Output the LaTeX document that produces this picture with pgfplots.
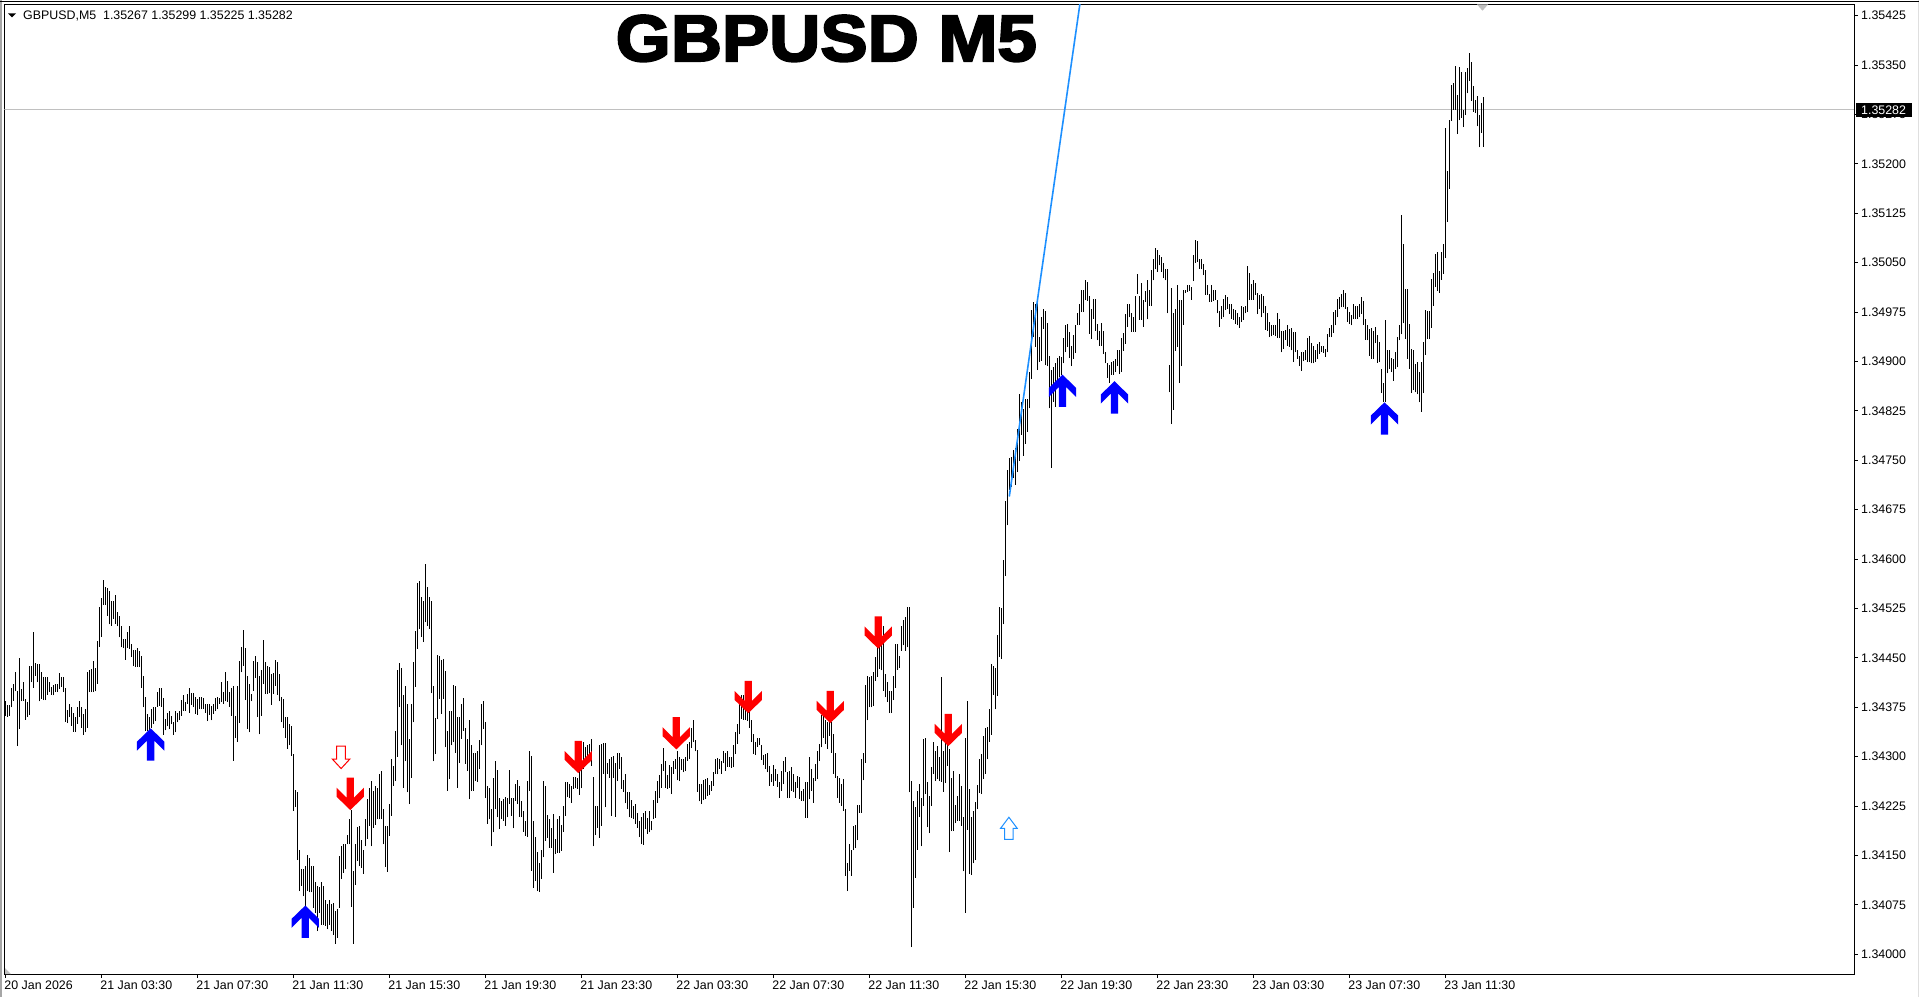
\documentclass[border=0pt]{standalone}
\usepackage{fontspec}
\usepackage{pgfplots}
\usepackage{pgfplotstable}
\pgfplotsset{compat=1.18}
\setmainfont{Liberation Sans}
\newfontfamily\titlefont[FakeBold=3.2,FakeStretch=1.08]{Liberation Sans Bold}
\definecolor{dodger}{HTML}{1E90FF}
\definecolor{cl}{HTML}{C0C0C0}
% High and low of each 5-minute bar, in points above 1.34000 (1 point = 0.00001)
\pgfplotstableread{
hi lo
385 362
379 361
379 362
405 375
410 385
429 399
400 316
450 342
403 384
414 385
388 356
383 360
438 364
438 413
490 405
442 423
440 413
440 384
428 388
421 386
421 386
421 394
414 398
406 394
409 393
411 398
411 398
427 403
421 406
421 398
404 353
371 351
380 360
375 347
366 338
360 338
376 350
384 360
376 344
365 333
372 337
428 344
431 398
433 398
446 398
435 399
476 411
528 467
541 482
569 531
557 530
556 514
551 501
537 499
537 509
546 502
519 498
513 481
499 466
479 465
479 447
489 465
499 464
471 451
462 437
462 436
465 436
461 436
453 405
422 375
390 339
365 339
360 339
373 344
376 350
376 354
398 376
404 377
405 376
389 333
357 340
367 346
370 342
362 349
352 333
369 337
367 352
370 355
386 362
393 370
383 370
395 380
405 367
396 379
396 375
390 365
388 364
390 372
390 372
389 372
380 367
380 354
380 364
377 355
380 365
389 369
390 372
389 380
413 383
398 380
428 384
415 383
398 376
405 362
408 294
362 329
408 323
446 351
466 428
492 438
465 386
423 342
410 337
395 384
446 400
453 420
443 361
423 334
431 362
477 410
443 395
438 395
436 396
426 379
427 395
447 408
444 394
425 384
390 352
388 344
361 329
361 312
349 317
346 301
304 218
249 224
247 143
158 96
129 104
129 88
134 73
151 96
146 94
134 94
134 71
109 63
104 35
102 63
109 45
104 45
82 43
76 38
83 45
76 35
78 30
66 16
68 25
149 71
164 114
168 124
167 129
181 167
205 167
219 72
127 16
167 105
193 142
195 134
173 131
159 122
205 164
235 175
253 195
263 164
248 192
256 197
253 205
273 205
278 205
220 167
195 133
195 125
228 180
296 210
286 256
339 263
432 300
442 375
435 317
393 253
408 293
380 246
327 228
380 268
444 352
491 406
564 464
567 494
543 482
537 474
592 504
558 499
543 494
536 396
408 293
359 304
455 357
453 388
447 365
448 388
430 314
339 248
370 266
370 317
409 322
408 306
360 253
360 291
380 327
389 339
344 289
327 278
355 235
317 248
306 248
306 263
308 262
325 281
380 317
385 342
352 237
256 198
253 205
220 164
268 185
294 220
280 208
238 190
233 205
235 203
239 195
237 208
280 228
238 210
237 191
259 233
264 228
256 209
232 208
218 186
202 180
263 178
308 248
301 127
203 101
178 111
156 96
138 95
158 114
263 147
256 172
212 177
205 162
192 162
213 124
175 152
205 154
210 154
197 157
225 186
261 210
261 239
259 237
256 230
269 251
269 252
268 251
280 242
280 252
322 281
314 294
317 298
320 301
327 286
269 164
225 181
225 192
318 177
319 195
321 274
321 223
291 274
296 268
299 210
301 268
291 209
306 263
305 281
300 251
264 247
274 229
247 220
247 208
234 207
225 205
228 198
215 192
202 178
209 167
215 166
217 190
207 183
218 185
203 188
234 205
248 207
263 230
272 237
289 253
313 279
294 253
272 251
288 253
285 243
294 274
296 281
308 264
300 263
296 280
296 276
299 278
319 294
322 296
344 313
355 322
325 308
310 247
259 232
259 228
264 234
266 235
268 241
257 242
263 248
276 256
296 274
298 273
296 281
294 274
309 290
306 279
309 285
299 285
299 283
317 284
337 304
349 319
385 334
393 357
394 356
390 356
385 354
370 344
356 322
334 304
322 303
328 315
329 317
317 295
303 288
304 281
306 276
286 256
274 261
288 256
281 263
274 254
261 238
278 248
294 258
299 276
276 237
279 237
285 248
274 246
261 238
271 253
269 235
248 233
251 232
261 207
261 207
299 235
281 248
268 230
289 263
309 266
320 294
364 314
362 329
355 320
352 312
360 332
352 306
334 274
306 268
271 237
268 230
258 225
266 218
220 119
139 96
167 127
159 119
195 158
196 161
227 173
227 215
296 215
305 264
409 291
423 355
421 375
423 375
428 377
451 415
466 421
469 433
469 431
499 400
426 390
413 383
400 366
400 366
423 386
471 405
471 432
453 435
498 461
507 469
512 461
527 466
528 246
263 11
232 71
224 116
248 159
258 208
238 164
327 225
329 243
261 193
240 184
285 225
322 274
309 263
316 266
300 263
421 262
308 247
327 260
322 286
311 155
267 187
279 187
226 199
240 203
274 203
255 195
208 126
329 63
385 189
251 122
208 120
218 138
231 143
257 220
297 245
304 243
332 266
343 274
345 296
373 323
441 333
437 394
434 372
484 392
528 451
525 448
598 501
688 574
736 651
753 705
755 710
765 723
769 713
797 732
851 749
838 789
828 757
843 775
843 793
884 829
978 874
991 937
987 922
993 887
937 899
967 901
979 950
976 894
958 893
908 829
887 739
892 839
897 831
906 861
909 876
907 879
935 897
956 914
957 922
945 905
924 893
940 904
956 913
973 956
988 956
1008 975
1008 975
1024 993
1021 992
999 942
980 934
995 965
995 947
957 932
947 924
958 924
947 911
914 897
897 875
895 867
899 880
900 880
904 884
917 893
917 881
935 884
943 916
972 927
987 952
988 967
974 945
968 945
999 945
1033 1003
1000 963
1019 963
993 953
1007 990
1023 964
1009 985
1039 984
1056 1023
1073 1040
1069 1036
1061 1046
1059 1036
1049 1026
1040 1023
1040 973
894 853
1012 805
973 827
980 916
1016 922
993 867
994 893
1008 956
1008 1004
1016 1006
1016 1007
1013 994
1061 1022
1084 1050
1083 1051
1055 1041
1055 1040
1048 1031
1039 1001
1016 1001
1002 990
1016 991
1008 992
1009 993
993 973
976 953
985 965
995 967
1001 978
998 980
987 972
987 965
979 963
978 957
974 955
967 951
985 960
982 963
985 973
1045 975
1035 993
1017 994
1024 994
1019 1001
1004 972
1001 980
1003 967
999 973
985 948
973 947
960 937
955 938
955 940
955 938
973 936
964 935
947 914
947 919
948 933
956 924
950 922
951 917
945 899
945 914
917 904
909 893
914 886
914 900
917 902
936 899
938 899
928 897
924 897
917 899
927 904
930 912
924 914
924 913
919 907
941 914
951 937
955 937
975 943
978 955
995 967
998 980
1003 982
1008 982
1004 980
983 960
975 957
970 955
987 964
984 965
984 965
988 967
998 972
992 956
965 933
955 932
950 909
951 904
947 904
952 928
940 898
930 899
889 852
868 838
963 838
917 882
917 889
905 884
904 871
914 889
937 891
956 932
1122 941
1078 958
1010 934
1010 904
957 889
919 852
917 856
896 853
899 850
884 838
899 824
929 852
978 910
977 934
976 934
1025 951
1034 985
1063 1013
1066 1007
1037 1004
1066 1024
1078 1033
1254 1057
1189 1112
1267 1162
1320 1265
1323 1282
1348 1282
1304 1245
1347 1266
1340 1270
1282 1256
1339 1274
1346 1307
1368 1326
1355 1296
1318 1279
1297 1277
1303 1257
1274 1225
1292 1247
1301 1226
}\bars
% Arrow markers, tip at the plotted coordinate, sizes in picture pixels
\pgfdeclareplotmark{bigup}{%
  \pgfpathmoveto{\pgfqpoint{0pt}{0pt}}
  \pgfpathlineto{\pgfqpoint{13.7pt}{-13.3pt}}
  \pgfpathlineto{\pgfqpoint{13.7pt}{-22.3pt}}
  \pgfpathlineto{\pgfqpoint{3.7pt}{-12.3pt}}
  \pgfpathlineto{\pgfqpoint{3.7pt}{-32.3pt}}
  \pgfpathlineto{\pgfqpoint{-3.7pt}{-32.3pt}}
  \pgfpathlineto{\pgfqpoint{-3.7pt}{-12.3pt}}
  \pgfpathlineto{\pgfqpoint{-13.7pt}{-22.3pt}}
  \pgfpathlineto{\pgfqpoint{-13.7pt}{-13.3pt}}
  \pgfpathclose\pgfusepathqfill}
\pgfdeclareplotmark{bigdown}{%
  \pgfpathmoveto{\pgfqpoint{0pt}{0pt}}
  \pgfpathlineto{\pgfqpoint{13.7pt}{13.3pt}}
  \pgfpathlineto{\pgfqpoint{13.7pt}{22.3pt}}
  \pgfpathlineto{\pgfqpoint{3.7pt}{12.3pt}}
  \pgfpathlineto{\pgfqpoint{3.7pt}{32.3pt}}
  \pgfpathlineto{\pgfqpoint{-3.7pt}{32.3pt}}
  \pgfpathlineto{\pgfqpoint{-3.7pt}{12.3pt}}
  \pgfpathlineto{\pgfqpoint{-13.7pt}{22.3pt}}
  \pgfpathlineto{\pgfqpoint{-13.7pt}{13.3pt}}
  \pgfpathclose\pgfusepathqfill}
\pgfdeclareplotmark{hollowup}{%
  \pgfpathmoveto{\pgfqpoint{0pt}{0pt}}
  \pgfpathlineto{\pgfqpoint{8.3pt}{-11pt}}
  \pgfpathlineto{\pgfqpoint{4.2pt}{-11pt}}
  \pgfpathlineto{\pgfqpoint{4.2pt}{-22pt}}
  \pgfpathlineto{\pgfqpoint{-4.2pt}{-22pt}}
  \pgfpathlineto{\pgfqpoint{-4.2pt}{-11pt}}
  \pgfpathlineto{\pgfqpoint{-8.3pt}{-11pt}}
  \pgfpathclose\pgfusepathqfillstroke}
\pgfdeclareplotmark{hollowdown}{%
  \pgfpathmoveto{\pgfqpoint{0pt}{0pt}}
  \pgfpathlineto{\pgfqpoint{8.8pt}{9.5pt}}
  \pgfpathlineto{\pgfqpoint{4.4pt}{9.5pt}}
  \pgfpathlineto{\pgfqpoint{4.4pt}{22.3pt}}
  \pgfpathlineto{\pgfqpoint{-4.4pt}{22.3pt}}
  \pgfpathlineto{\pgfqpoint{-4.4pt}{9.5pt}}
  \pgfpathlineto{\pgfqpoint{-8.8pt}{9.5pt}}
  \pgfpathclose\pgfusepathqfillstroke}
\newcommand{\lab}{\fontsize{12.4}{14}\selectfont}
\begin{document}
\begin{tikzpicture}[x=1pt,y=1pt]
\path[use as bounding box] (0,0) rectangle (1919,997);
\begin{axis}[
  name=main, anchor=south west, at={(4.5pt,22.7pt)},
  scale only axis, width=1850pt, height=969.8pt,
  xmin=-0.4, xmax=924.6, ymin=-30.4, ymax=1442,
  axis line style={black,line width=1pt},
  tick style={black,line width=1pt},
  major tick length=3.5pt, tick align=outside,
  xtick pos=bottom, ytick pos=right,
  xtick={0,48,96,144,192,240,288,336,384,432,480,528,576,624,672,720},
  xticklabels={20 Jan 2026,21 Jan 03:30,21 Jan 07:30,21 Jan 11:30,21 Jan 15:30,21 Jan 19:30,21 Jan 23:30,22 Jan 03:30,22 Jan 07:30,22 Jan 11:30,22 Jan 15:30,22 Jan 19:30,22 Jan 23:30,23 Jan 03:30,23 Jan 07:30,23 Jan 11:30},
  ytick={0,75,150,225,300,375,450,525,600,675,750,825,900,975,1050,1125,1200,1275,1350,1425},
  yticklabels={1.34000,1.34075,1.34150,1.34225,1.34300,1.34375,1.34450,1.34525,1.34600,1.34675,1.34750,1.34825,1.34900,1.34975,1.35050,1.35125,1.35200,1.35275,1.35350,1.35425},
  x tick label style={font=\lab,anchor=north west,inner xsep=0pt,inner ysep=0pt,xshift=-1pt,yshift=-2.8pt},
  y tick label style={font=\lab,anchor=west,inner xsep=0pt,xshift=3pt},
  every axis plot/.append style={forget plot},
]
\addplot[cl,line width=1pt] coordinates {(-0.4,1282)(924.6,1282)};
\addplot[draw=none,mark=none,
  error bars/.cd,y dir=plus,y explicit,error mark=none,
  error bar style={black,line width=1pt,line cap=butt}]
  table[x expr=\coordindex,y=lo,y error expr=\thisrow{hi}-\thisrow{lo}]{\bars};
\addplot[dodger,line width=1.6pt] coordinates {(502,695)(540,1500)};
\addplot[only marks,mark=bigup,blue,mark options={fill=blue,draw=none}]
  coordinates {(72.7,343)(150,74)(528.6,880)(554.6,870)(689.6,838)};
\addplot[only marks,mark=bigdown,red,mark options={fill=red,draw=none}]
  coordinates {(172.5,219)(286.5,275)(335.5,311)(371.5,366)(412.5,351)(436.5,464)(471.5,316)};
\addplot[only marks,mark=hollowdown,mark options={fill=white,draw=red,line width=1pt}]
  coordinates {(167.9,282)};
\addplot[only marks,mark=hollowup,mark options={fill=white,draw=dodger,line width=1pt}]
  coordinates {(501.8,208)};
\end{axis}
% window edges
\fill[gray!70] (0,0) rectangle (2,997);
\fill[gray!25] (1918,0) rectangle (1919,997);
\draw[black,line width=1pt] (0,995.3) -- (1919,995.3);
% chart-shift markers
\fill[cl] (1477,992.5) -- (1488,992.5) -- (1482.5,986.3) -- cycle;
\fill[cl] (5,29) -- (5,23) -- (11,23) -- cycle;
% header
\fill[black] (8,983.5) -- (16,983.5) -- (12,979.5) -- cycle;
\node[anchor=west,inner sep=0pt,font=\lab] at (23,981.5) {GBPUSD,M5\ \ 1.35267 1.35299 1.35225 1.35282};
% title
\node[anchor=base west,inner sep=0pt,font={\titlefont\fontsize{65.6}{70}\selectfont}] at (615.5,936) {GBPUSD M5};
% current price tag
\fill[black] (1856,880) rectangle (1912,894);
\node[anchor=west,inner sep=0pt,text=white,font=\lab] at (1861,887) {1.35282};
\end{tikzpicture}
\end{document}
